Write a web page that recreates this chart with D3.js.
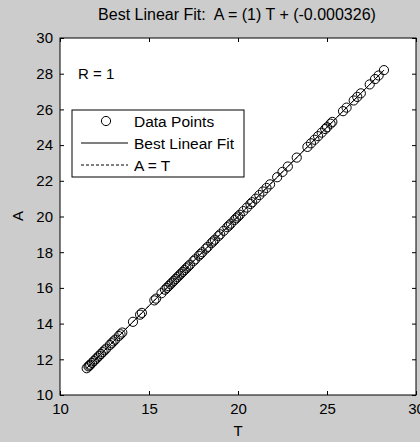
<!DOCTYPE html>
<html><head><meta charset="utf-8">
<script src="https://d3js.org/d3.v7.min.js"></script>
<style>
html,body{margin:0;padding:0;background:#cccccc;}
svg{display:block;}
text{font-family:"Liberation Sans",Arial,sans-serif;fill:#000;white-space:pre;}
</style></head>
<body>
<svg id="chart" width="420" height="442"></svg>
<script>
const targets = [11.5,11.6,11.65,11.7,11.8,11.9,12.0,12.1,12.2,12.3,12.4,12.5,12.6,12.8,12.9,13.0,13.1,13.3,13.4,13.5,
  14.1,14.5,14.6,15.3,15.4,15.7,15.9,16.0,16.1,16.2,16.3,16.4,16.5,16.6,16.7,16.8,16.9,17.0,17.1,17.2,17.3,17.5,17.6,17.8,17.9,
  18.0,18.2,18.3,18.5,18.6,18.7,18.9,19.0,19.2,19.4,19.5,19.6,19.8,19.9,20.0,20.1,20.3,20.5,20.7,20.8,21.0,21.2,21.4,21.6,21.8,
  22.2,22.5,22.8,23.3,23.9,24.1,24.3,24.5,24.7,24.9,25.0,25.2,25.3,25.9,26.1,26.5,26.7,26.9,27.4,27.7,27.9,28.2];
const outputs = [11.5,11.6,11.65,11.7,11.8,11.9,12.0,12.1,12.2,12.3,12.4,12.5,12.6,12.8,12.9,13.0,13.1,13.3,13.4,13.5,
  14.1,14.5,14.6,15.3,15.4,15.7,15.9,16.0,16.1,16.2,16.3,16.4,16.5,16.6,16.7,16.8,16.9,17.0,17.1,17.2,17.3,17.5,17.6,17.8,17.9,
  18.0,18.2,18.3,18.5,18.6,18.7,18.9,19.0,19.2,19.4,19.5,19.6,19.8,19.9,20.0,20.1,20.3,20.5,20.7,20.8,21.0,21.2,21.4,21.6,21.8,
  22.2,22.5,22.8,23.3,23.9,24.1,24.3,24.5,24.7,24.9,25.0,25.2,25.3,25.9,26.1,26.5,26.7,26.9,27.4,27.7,27.9,28.2];
const xTicks = [10,15,20,25,30];
const yTicks = [10,12,14,16,18,20,22,24,26,28,30];
const slope = 1, intercept = -0.000326, R = 1;
const titleText = "Best Linear Fit:  A = (1) T + (-0.000326)";
const legendLabels = ["Data Points","Best Linear Fit","A = T"];

const svg = d3.select("#chart");
const L = 60, Rt = 416, T = 38, B = 395;
const x = d3.scaleLinear().domain([10,30]).range([L,Rt]);
const y = d3.scaleLinear().domain([10,30]).range([B,T]);

svg.append("rect").attr("x",L).attr("y",T).attr("width",Rt-L).attr("height",B-T).attr("fill","#fff");

// data points
const g = svg.append("g");
g.selectAll("circle").data(targets).join("circle")
  .attr("cx",(d)=>x(d)).attr("cy",(d,i)=>y(outputs[i])).attr("r",4.6)
  .attr("fill","none").attr("stroke","#000").attr("stroke-width",1);

const mn = Math.min(d3.min(targets), d3.min(outputs));
const mx = Math.max(d3.max(targets), d3.max(outputs));
svg.append("line").attr("x1",x(mn)).attr("y1",y(mn*slope+intercept)).attr("x2",x(mx)).attr("y2",y(mx*slope+intercept))
  .attr("stroke","#000").attr("stroke-width",1);
svg.append("line").attr("x1",x(mn)).attr("y1",y(mn)).attr("x2",x(mx)).attr("y2",y(mx))
  .attr("stroke","#000").attr("stroke-width",1).attr("stroke-dasharray","3,2");

// axes
const ax = svg.append("g").attr("transform",`translate(0,${B})`)
  .call(d3.axisBottom(x).tickValues(xTicks).tickSizeInner(-4).tickSizeOuter(0).tickPadding(8));
const ay = svg.append("g").attr("transform",`translate(${L},0)`)
  .call(d3.axisLeft(y).tickValues(yTicks).tickSizeInner(-4).tickSizeOuter(0).tickPadding(7));
const axT = svg.append("g").attr("transform",`translate(0,${T})`)
  .call(d3.axisTop(x).tickValues(xTicks).tickSizeInner(-4).tickSizeOuter(0));
const ayR = svg.append("g").attr("transform",`translate(${Rt},0)`)
  .call(d3.axisRight(y).tickValues(yTicks).tickSizeInner(-4).tickSizeOuter(0));
axT.selectAll("text").remove(); ayR.selectAll("text").remove();
[ax,ay,axT,ayR].forEach(a=>{
  a.select(".domain").remove();
  a.selectAll("line").attr("stroke","#000");
  a.selectAll("text").attr("font-size",15).attr("font-family","Liberation Sans, Arial, sans-serif").attr("fill","#000");
});
svg.append("rect").attr("x",L).attr("y",T).attr("width",Rt-L).attr("height",B-T)
  .attr("fill","none").attr("stroke","#000").attr("stroke-width",1);

// labels
svg.append("text").attr("x",237).attr("y",20).attr("text-anchor","middle").attr("font-size",16).text(titleText);
svg.append("text").attr("x",238).attr("y",436).attr("text-anchor","middle").attr("font-size",15).text("T");
svg.append("text").attr("transform","translate(23,216) rotate(-90)").attr("text-anchor","middle").attr("font-size",15).text("A");
svg.append("text").attr("x",78).attr("y",79).attr("font-size",15).text("R = " + R);

// legend
const lg = svg.append("g");
lg.append("rect").attr("x",72).attr("y",110).attr("width",172).attr("height",67)
  .attr("fill","#fff").attr("stroke","#000").attr("stroke-width",1);
const rows = [121,143,165];
lg.append("circle").attr("cx",106).attr("cy",rows[0]).attr("r",4.6).attr("fill","none").attr("stroke","#000");
lg.append("line").attr("x1",81).attr("x2",128).attr("y1",rows[1]).attr("y2",rows[1]).attr("stroke","#000");
lg.append("line").attr("x1",81).attr("x2",128).attr("y1",rows[2]).attr("y2",rows[2]).attr("stroke","#000").attr("stroke-dasharray","3,2");
legendLabels.forEach((t,i)=>{
  lg.append("text").attr("x",134).attr("y",rows[i]+5.5).attr("font-size",15.5).text(t);
});
</script>
</body></html>
